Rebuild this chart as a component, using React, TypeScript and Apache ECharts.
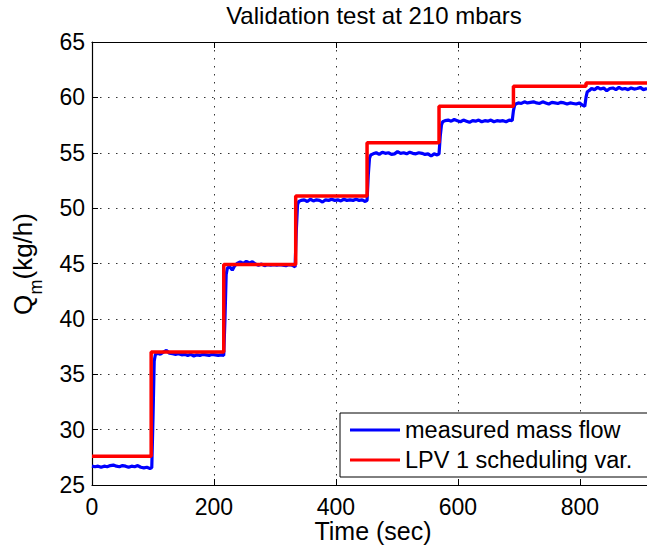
import React, { useEffect, useRef } from 'react';
import * as echarts from 'echarts';

const titleText = 'Validation test at 210 mbars';
const xLabelText = 'Time (sec)';
const legendNames = ['measured mass flow', 'LPV 1 scheduling var.'];

const xMin = 0;
const xMax = 910;
const xStep = 200;
const yMin = 25;
const yMax = 65;
const yStep = 5;

// LPV 1 scheduling variable: step times (s) and held levels (kg/h)
const lpvTimes = [0, 97, 216, 334, 451, 569, 691, 810, 910];
const lpvLevels = [27.6, 37.0, 44.9, 51.1, 55.9, 59.2, 61.0, 61.3, 61.3];

// measured mass flow samples [time (s), Qm (kg/h)]
const measuredFlow: [number, number][] = [
  [0, 26.7], [5, 26.65], [10, 26.7], [15, 26.6], [20, 26.7], [25, 26.65], [30, 26.75], [35, 26.8],
  [40, 26.7], [45, 26.65], [50, 26.75], [55, 26.7], [60, 26.6], [65, 26.7], [70, 26.65], [75, 26.75],
  [80, 26.6], [85, 26.55], [90, 26.6], [95, 26.5], [98, 26.55],
  [100, 31.0], [102, 36.2], [104, 36.8],
  [108, 36.9], [112, 36.8], [117, 37.0], [122, 37.15], [127, 36.9], [132, 36.85], [137, 36.8], [142, 36.85],
  [147, 36.75], [152, 36.8], [157, 36.7], [162, 36.8], [167, 36.65], [172, 36.75], [177, 36.7], [182, 36.8],
  [187, 36.75], [192, 36.7], [197, 36.8], [202, 36.75], [207, 36.7], [212, 36.75], [216, 36.7],
  [218, 40.0], [220, 44.0], [222, 44.6],
  [226, 44.7], [230, 44.4], [234, 44.8], [238, 45.0], [243, 45.15], [248, 45.0], [253, 45.2], [258, 45.05],
  [263, 45.15], [268, 44.95], [273, 44.85], [278, 44.95], [283, 44.8], [288, 44.9], [293, 44.85], [298, 44.9],
  [303, 44.85], [308, 44.9], [313, 44.85], [318, 44.8], [323, 44.9], [328, 44.85], [333, 44.7],
  [335, 48.0], [337, 50.3], [339, 50.6],
  [343, 50.7], [348, 50.75], [353, 50.6], [358, 50.8], [363, 50.65], [368, 50.75], [373, 50.7], [378, 50.55],
  [383, 50.75], [388, 50.7], [393, 50.8], [398, 50.7], [403, 50.75], [408, 50.65], [413, 50.8], [418, 50.7],
  [423, 50.75], [428, 50.7], [433, 50.8], [438, 50.7], [443, 50.75], [448, 50.6], [451, 50.7],
  [453, 53.0], [455, 54.5], [457, 54.8],
  [461, 54.9], [466, 55.0], [471, 54.85], [476, 55.05], [481, 54.95], [486, 55.0], [491, 54.85], [496, 54.9],
  [501, 55.1], [506, 54.95], [511, 55.0], [516, 54.9], [521, 55.05], [526, 54.95], [531, 54.9], [536, 55.0],
  [541, 54.95], [546, 54.85], [551, 54.9], [556, 54.7], [561, 54.9], [566, 54.8], [569, 54.9],
  [571, 56.5], [573, 57.5], [575, 57.8],
  [579, 57.9], [584, 57.95], [589, 57.85], [594, 58.0], [599, 57.9], [604, 57.8], [609, 57.95], [614, 57.85],
  [619, 57.75], [624, 57.9], [629, 57.85], [634, 57.95], [639, 57.8], [644, 57.9], [649, 57.85], [654, 57.95],
  [659, 57.8], [664, 57.9], [669, 57.85], [674, 57.9], [679, 57.8], [684, 57.95], [689, 57.9],
  [691, 58.8], [693, 59.3], [695, 59.4],
  [699, 59.5], [704, 59.45], [709, 59.6], [714, 59.5], [719, 59.55], [724, 59.6], [729, 59.5], [734, 59.45],
  [739, 59.6], [744, 59.5], [749, 59.4], [754, 59.55], [759, 59.5], [764, 59.45], [769, 59.55], [774, 59.5],
  [779, 59.4], [784, 59.5], [789, 59.45], [794, 59.4], [799, 59.5], [804, 59.3], [808, 59.2],
  [810, 60.0], [812, 60.5], [815, 60.6],
  [819, 60.8], [824, 60.7], [829, 60.9], [834, 60.75], [839, 60.85], [844, 60.6], [849, 60.8], [854, 60.85],
  [859, 60.7], [864, 60.9], [869, 60.75], [874, 60.8], [879, 60.7], [884, 60.85], [889, 60.75], [894, 60.8],
  [899, 60.9], [904, 60.7], [910, 60.8],
];

const FONT = '"Liberation Sans", Arial, Helvetica, sans-serif';

export default function App() {
  const ref = useRef<HTMLDivElement>(null);

  useEffect(() => {
    document.body.style.margin = '0';
    if (!ref.current) return;
    const chart = echarts.init(ref.current, null, { renderer: 'svg' });

    const gridLine = { show: true, lineStyle: { color: '#333', width: 1, type: [1.5, 6.5] as number[] } };

    const option: any = {
      animation: false,
      backgroundColor: '#ffffff',
      grid: { left: 92, top: 42, right: 0, bottom: 63, containLabel: false },
      xAxis: [
        {
          type: 'value', min: xMin, max: xMax, interval: xStep, position: 'bottom',
          axisLine: { show: true, onZero: false, lineStyle: { color: '#000', width: 1.2 } },
          axisTick: { show: true, inside: true, length: 6, lineStyle: { color: '#000' } },
          axisLabel: { fontSize: 23, color: '#000', fontFamily: FONT, margin: 10, showMaxLabel: false },
          splitLine: gridLine,
        },
        {
          type: 'value', min: xMin, max: xMax, interval: xStep, position: 'top',
          axisLine: { show: true, onZero: false, lineStyle: { color: '#000', width: 1.2 } },
          axisTick: { show: true, inside: true, length: 6, lineStyle: { color: '#000' } },
          axisLabel: { show: false },
          splitLine: { show: false },
        },
      ],
      yAxis: [
        {
          type: 'value', min: yMin, max: yMax, interval: yStep, position: 'left',
          axisLine: { show: true, onZero: false, lineStyle: { color: '#000', width: 1.2 } },
          axisTick: { show: true, inside: true, length: 6, lineStyle: { color: '#000' } },
          axisLabel: { fontSize: 23, color: '#000', fontFamily: FONT, margin: 7 },
          splitLine: gridLine,
        },
      ],
      legend: {
        orient: 'vertical',
        left: 340,
        top: 413,
        padding: [5, 30, 5, 10],
        itemWidth: 50,
        itemHeight: 3,
        itemGap: 6,
        icon: 'rect',
        borderColor: '#000',
        borderWidth: 1,
        borderRadius: 0,
        backgroundColor: '#fff',
        selectedMode: false,
        textStyle: { fontSize: 23.5, color: '#000', fontFamily: FONT },
        data: legendNames,
      },
      series: [
        {
          type: 'line',
          name: legendNames[0],
          data: measuredFlow,
          symbol: 'none',
          showSymbol: false,
          itemStyle: { color: '#0000ff' },
          lineStyle: { color: '#0000ff', width: 3.2 },
          z: 2,
        },
        {
          type: 'line',
          name: legendNames[1],
          data: lpvTimes.map((t, i) => [t, lpvLevels[i]]),
          step: 'end',
          symbol: 'none',
          showSymbol: false,
          itemStyle: { color: '#ff0000' },
          lineStyle: { color: '#ff0000', width: 3.5 },
          z: 3,
        },
      ],
      graphic: [
        {
          type: 'text', x: 374, y: 15,
          style: { text: titleText, fontSize: 24, fontFamily: FONT, fill: '#000', align: 'center', verticalAlign: 'middle' },
        },
        {
          type: 'text', x: 373, y: 531,
          style: { text: xLabelText, fontSize: 25, fontFamily: FONT, fill: '#000', align: 'center', verticalAlign: 'middle' },
        },
        {
          type: 'group', x: 23, y: 315, rotation: Math.PI / 2,
          children: [
            { type: 'text', x: 0, y: 0, style: { text: 'Q', fontSize: 26, fontFamily: FONT, fill: '#000', align: 'left', verticalAlign: 'middle' } },
            { type: 'text', x: 20.5, y: 13, style: { text: 'm', fontSize: 18, fontFamily: FONT, fill: '#000', align: 'left', verticalAlign: 'middle' } },
            { type: 'text', x: 35.5, y: 0, style: { text: '(kg/h)', fontSize: 26, fontFamily: FONT, fill: '#000', align: 'left', verticalAlign: 'middle' } },
          ],
        },
      ],
    };

    chart.setOption(option);
    return () => chart.dispose();
  }, []);

  return <div ref={ref} style={{ width: 647, height: 548 }} />;
}
